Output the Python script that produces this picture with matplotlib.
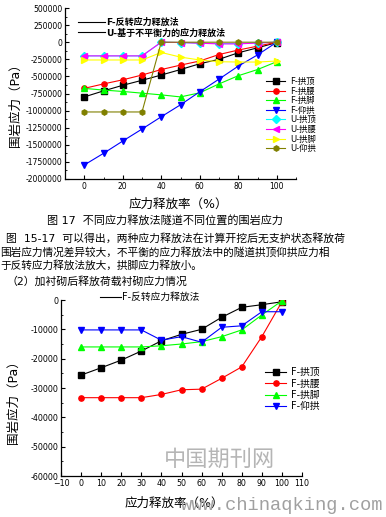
import numpy as np
import matplotlib.pyplot as plt
from matplotlib.lines import Line2D
from matplotlib.ticker import MultipleLocator

plt.rcParams['font.family'] = ['DejaVu Sans', 'Noto Sans CJK SC']

W, H = 386, 517


def fx(x):
    return x / W


def fy(y):
    return 1 - y / H


# ---- 图17 数据（应力释放率 %） ----
rate = [0, 10, 20, 30, 40, 50, 60, 70, 80, 90, 100]
F_gongding = [-800000, -712000, -630000, -557000, -480000, -400000, -315000, -250000, -155000, -82000, -5000]
F_gongyao = [-675000, -610000, -550000, -480000, -400000, -335000, -275000, -180000, -115000, -58000, 0]
F_gongjiao = [-675000, -700000, -720000, -745000, -770000, -800000, -740000, -610000, -490000, -400000, -285000]
F_yanggong = [-1795000, -1625000, -1445000, -1270000, -1090000, -915000, -725000, -540000, -350000, -186000, 0]
U_gongding = [-200000, -200000, -200000, -200000, 0, -5000, -15000, -20000, -20000, -10000, 0]
U_gongyao = [-200000, -200000, -200000, -200000, 0, -5000, -15000, -25000, -25000, -12000, 0]
U_gongjiao = [-260000, -260000, -260000, -260000, -150000, -218000, -260000, -285000, -290000, -290000, -275000]
U_yanggong = [-1020000, -1020000, -1020000, -1020000, 0, 0, 0, 0, 0, 0, 0]

top_yticks = list(range(-2000000, 500001, 250000))

# ---- 加衬砌后数据 ----
B_gongding = [-25600, -23100, -20500, -17400, -13900, -11700, -10000, -5900, -2500, -1600, -600]
B_gongyao = [-33300, -33300, -33300, -33300, -32200, -30600, -30400, -26700, -22800, -12500, -600]
B_gongjiao = [-16000, -16000, -16000, -16000, -15600, -15000, -14200, -12500, -10200, -5100, -300]
B_yanggong = [-10200, -10200, -10200, -10200, -13700, -12500, -14400, -9300, -8800, -4000, -4000]

bot_xticks = list(range(-10, 111, 10))
bot_yticks = list(range(-60000, 1, 10000))

fig = plt.figure(figsize=(W / 100, H / 100), dpi=100)


def style_axes(ax, fs):
    ax.spines['top'].set_visible(False)
    ax.spines['right'].set_visible(False)
    ax.spines['left'].set_linewidth(0.9)
    ax.spines['bottom'].set_linewidth(0.9)
    ax.tick_params(which='major', direction='in', length=3, width=0.8, labelsize=fs, pad=2)
    ax.tick_params(which='minor', direction='in', length=1.6, width=0.6)


# -------- 上图 --------
ax1 = fig.add_axes([fx(65), fy(179), fx(296) - fx(65), (179 - 8) / H])
style_axes(ax1, 5.5)
series1 = [
    (F_gongding, 'F-拱顶', 'black', 's'),
    (F_gongyao, 'F-拱腰', 'red', 'o'),
    (F_gongjiao, 'F-拱脚', '#00ff00', '^'),
    (F_yanggong, 'F-仰拱', 'blue', 'v'),
    (U_gongding, 'U-拱顶', '#00ffff', 'D'),
    (U_gongyao, 'U-拱腰', '#ff00ff', '<'),
    (U_gongjiao, 'U-拱脚', '#ffff00', '>'),
    (U_yanggong, 'U-仰拱', '#808000', 'h'),
]
for vals, lab, col, mk in series1:
    ax1.plot(rate, vals, color=col, marker=mk, markersize=3.8, linewidth=0.8, label=lab)
ax1.set_xlim(-10, 110)
ax1.set_ylim(-2000000, 500000)
ax1.set_xticks(range(0, 101, 20))
ax1.xaxis.set_minor_locator(MultipleLocator(10))
ax1.set_yticks(top_yticks)
ax1.set_yticklabels([str(t) for t in top_yticks])
ax1.yaxis.set_minor_locator(MultipleLocator(125000))

h1, l1 = ax1.get_legend_handles_labels()
leg1 = ax1.legend(h1, l1, loc='upper left', bbox_to_anchor=(fx(266), fy(77)),
                  bbox_transform=fig.transFigure, frameon=False, fontsize=6,
                  handlelength=2.3, handletextpad=0.6, labelspacing=0.07,
                  borderpad=0, borderaxespad=0)
ax1.add_artist(leg1)
meth = [Line2D([], [], color='black', linewidth=0.8)] * 2
ax1.legend(meth, ['F-反转应力释放法', 'U-基于不平衡力的应力释放法'], loc='upper left',
           bbox_to_anchor=(fx(78), fy(18)), bbox_transform=fig.transFigure,
           frameon=False, prop={'size': 6.5, 'weight': 'bold'},
           handlelength=3.0, handletextpad=0.1, labelspacing=0.1,
           borderpad=0, borderaxespad=0)

fig.text(fx(15), fy(102), '围岩应力（Pa）', rotation=90, ha='center', va='center', fontsize=9)
fig.text(fx(178), fy(204), '应力释放率（%）', ha='center', va='center', fontsize=9)

# -------- 中间文字 --------
fig.text(fx(47), fy(220), '图 17  不同应力释放法隧道不同位置的围岩应力', ha='left', va='center', fontsize=8)
fig.text(fx(6), fy(238), '图  15-17  可以得出，两种应力释放法在计算开挖后无支护状态释放荷',
         ha='left', va='center', fontsize=7.8)
fig.text(fx(0), fy(252), '围岩应力情况差异较大，不平衡的应力释放法中的隧道拱顶仰拱应力相',
         ha='left', va='center', fontsize=7.7)
fig.text(fx(0), fy(266), '于反转应力释放法放大，拱脚应力释放小。', ha='left', va='center', fontsize=7.7)
fig.text(fx(7), fy(282), '（2）加衬砌后释放荷载衬砌应力情况', ha='left', va='center', fontsize=7.8)

# -------- 下图 --------
ax2 = fig.add_axes([fx(61), fy(476), fx(302) - fx(61), (476 - 300) / H])
style_axes(ax2, 5.7)
series2 = [
    (B_gongding, 'F-拱顶', 'black', 's'),
    (B_gongyao, 'F-拱腰', 'red', 'o'),
    (B_gongjiao, 'F-拱脚', '#00ff00', '^'),
    (B_yanggong, 'F-仰拱', 'blue', 'v'),
]
for vals, lab, col, mk in series2:
    ax2.plot(rate, vals, color=col, marker=mk, markersize=3.8, linewidth=0.8, label=lab)
ax2.set_xlim(-10, 110)
ax2.set_ylim(-60000, 0)
ax2.set_xticks(bot_xticks)
ax2.set_yticks(bot_yticks)
ax2.set_yticklabels([str(t) for t in bot_yticks])
ax2.yaxis.set_minor_locator(MultipleLocator(5000))

h2, l2 = ax2.get_legend_handles_labels()
leg2 = ax2.legend(h2, l2, loc='upper left', bbox_to_anchor=(fx(265), fy(367)),
                  bbox_transform=fig.transFigure, frameon=False, fontsize=7,
                  handlelength=2.2, handletextpad=0.5, labelspacing=0.15,
                  borderpad=0, borderaxespad=0)
ax2.add_artist(leg2)
ax2.legend([Line2D([], [], color='black', linewidth=0.8)], ['F-反转应力释放法'], loc='upper left',
           bbox_to_anchor=(fx(100), fy(292)), bbox_transform=fig.transFigure,
           frameon=False, fontsize=7, handlelength=2.2, handletextpad=0.1,
           borderpad=0, borderaxespad=0)

fig.text(fx(13), fy(399), '围岩应力（Pa）', rotation=90, ha='center', va='center', fontsize=9)
fig.text(fx(174), fy(503), '应力释放率（%）', ha='center', va='center', fontsize=9)

# 水印
fig.text(fx(220), fy(460), '中国期刊网', ha='center', va='center', fontsize=16, color='#b5b5b5')
fig.text(fx(181), fy(506), 'www.chinaqking.com', ha='left', va='center', fontsize=13.5,
         color='#a0a0a0', family='Liberation Mono')

fig.savefig('out.png', dpi=100)
